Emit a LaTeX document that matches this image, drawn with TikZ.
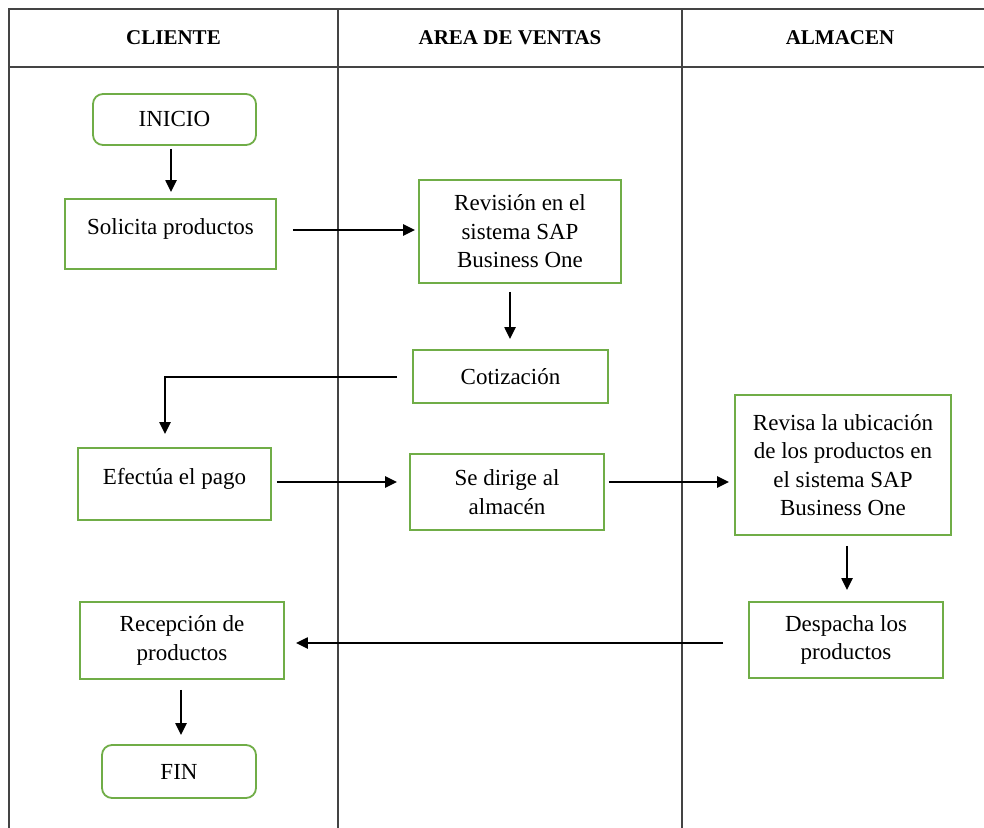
\documentclass[tikz,border=0pt]{standalone}
\usepackage{fontspec}
\setmainfont{Liberation Serif}
\usepackage{tikz}
\usetikzlibrary{positioning, arrows.meta}
\definecolor{verde}{RGB}{112,173,71}
\definecolor{marco}{RGB}{68,68,68}

\begin{document}
\begin{tikzpicture}[x=0.5pt, y=-0.5pt,
                paso/.style={rectangle, draw=verde, line width=0.9pt, align=center, inner sep=0pt, font=\fontsize{11.5}{14.2}\selectfont},
                terminal/.style={paso, rounded corners=5pt},
                cab/.style={font=\fontsize{10.5}{12}\selectfont\bfseries},
                flecha/.style={line width=1.1pt, -{Triangle[length=6pt, width=5.5pt]}}
            ]
                \useasboundingbox (0,0) rectangle (984,828);

                % Marco y carriles
                \draw[marco, line width=1pt] (9,828) -- (9,9) -- (984,9);
                \draw[marco, line width=1pt] (9,67) -- (984,67);
                \draw[marco, line width=1pt] (338,9) -- (338,828);
                \draw[marco, line width=1pt] (682,9) -- (682,828);

                % Cabeceras
                \node[cab] (hcli) at (173.5,38) {CLIENTE};
                \node[cab] (hven) at (510,38) {AREA DE VENTAS};
                \node[cab] (halm) at (840,38) {ALMACEN};

                % Carril 1 (Cliente)
                \node[terminal, minimum width=81.5pt, minimum height=25.5pt] (ini) at (174.5,119.5) {INICIO};
                \node[paso, minimum width=105.5pt, minimum height=35pt, text depth=7.5pt] (sol) at (170.5,234) {Solicita productos};
                \node[paso, minimum width=96.5pt, minimum height=36pt, text depth=7.5pt] (efe) at (174.5,484) {Efectúa el pago};
                \node[paso, minimum width=102pt, minimum height=38.5pt] (rec) at (182,640.5) {Recepción de\\productos};
                \node[terminal, minimum width=77pt, minimum height=26.5pt] (fin) at (179,771.5) {FIN};

                % Carril 2 (Area de ventas)
                \node[paso, minimum width=101pt, minimum height=51.5pt] (rev) at (520,231.5) {Revisión en el\\sistema SAP\\Business One};
                \node[paso, minimum width=97.5pt, minimum height=26.5pt] (cot) at (510.5,376.5) {Cotización};
                \node[paso, minimum width=97pt, minimum height=38pt] (dir) at (507,492) {Se dirige al\\almacén};

                % Carril 3 (Almacen)
                \node[paso, minimum width=108pt, minimum height=70pt] (ubi) at (843,465) {Revisa la ubicación\\de los productos en\\el sistema SAP\\Business One};
                \node[paso, minimum width=97pt, minimum height=38pt] (des) at (846,640) {Despacha los\\productos};

                % Flechas
                \draw[flecha] ([shift={(-3.5,3)}]ini.south) -- ([shift={(0.5,-6)}]sol.north);
                \draw[flecha] ([shift={(16,-4)}]sol.east) -- ([shift={(-3,-1.5)}]rev.west);
                \draw[flecha] ([shift={(-10,8)}]rev.south) -- ([shift={(-0.5,-10)}]cot.north);
                \draw[flecha] ([shift={(-15,0.5)}]cot.west) -| ([shift={(-9.5,-13)}]efe.north);
                \draw[flecha] ([shift={(5,-2)}]efe.east) -- ([shift={(-12,-10)}]dir.west);
                \draw[flecha] ([shift={(4,-10)}]dir.east) -- ([shift={(-5,17)}]ubi.west);
                \draw[flecha] ([shift={(4,10)}]ubi.south) -- ([shift={(1,-11)}]des.north);
                \draw[flecha] ([shift={(-25,3)}]des.west) -- ([shift={(11,2.5)}]rec.east);
                \draw[flecha] ([shift={(-1,10)}]rec.south) -- ([shift={(2,-9)}]fin.north);

            \end{tikzpicture}
\end{document}
